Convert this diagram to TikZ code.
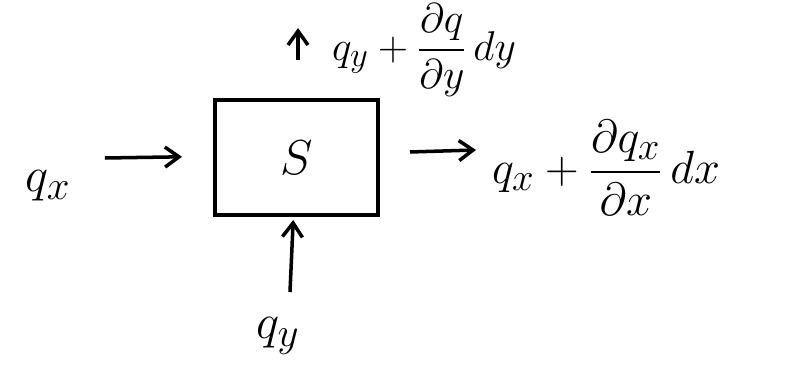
\documentclass[tikz,border=0pt]{standalone}
\usepackage{amsmath}
\usetikzlibrary{positioning,arrows.meta}

\begin{document}
\begin{tikzpicture}[
  block/.style={
    draw,
    line width=3pt,
    minimum width=4.07cm,
    minimum height=2.87cm,
    inner sep=0pt
  },
  flux/.style={font=\Huge,scale=1.4},
  edge/.style={draw=black,line width=2.5pt,-{Straight Barb[length=3.5mm,width=5mm]}}
]
  \useasboundingbox (0,0) rectangle (20,9.35);

  \node[block] (s) at (7.41,5.41) {\scalebox{1.4}{\Huge$S$}};

  \node[flux] (qxin) at (1.2,4.7) {$q_x$};
  \node[flux,scale=0.95] (qxout) at (15.15,5.15) {$q_x + \dfrac{\partial q_x}{\partial x}\,dx$};
  \node[flux] (qyin) at (6.95,0.95) {$q_y$};
  \node[flux,scale=0.85] (qyout) at (10.6,8.1) {$q_y + \dfrac{\partial q}{\partial y}\,dy$};

  \coordinate (a1) at (2.62,5.4);
  \coordinate (b1) at (4.55,5.43);
  \coordinate (a2) at (10.25,5.55);
  \coordinate (b2) at (11.9,5.6);
  \coordinate (a3) at (7.25,2.05);
  \coordinate (b3) at (7.33,3.85);
  \coordinate (a4) at (7.45,7.85);
  \coordinate (b4) at (7.45,8.65);

  \draw[edge] (a1) -- (b1);
  \draw[edge] (a2) -- (b2);
  \draw[edge] (a3) -- (b3);
  \draw[edge] (a4) -- (b4);
\end{tikzpicture}
\end{document}
